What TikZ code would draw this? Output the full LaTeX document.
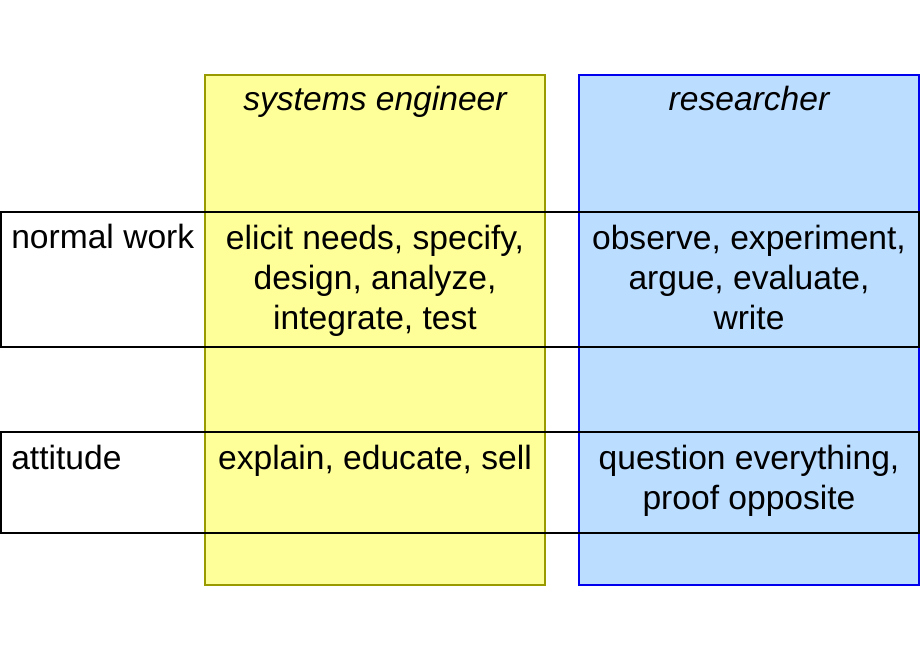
\documentclass[tikz,border=0pt]{standalone}
\usepackage{fontspec}
\setmainfont{Liberation Sans}
\begin{document}
\begin{tikzpicture}[x=0.75pt,y=-0.75pt,
  col/.style={line width=0.9pt},
  txt/.style={font=\fontsize{25.2}{30}\selectfont,align=center,anchor=north,inner sep=0pt},
  lab/.style={font=\fontsize{25.2}{30}\selectfont,anchor=north west,inner sep=0pt}]
\definecolor{yfill}{HTML}{FFFF99}\definecolor{yline}{HTML}{999900}
\definecolor{bfill}{HTML}{BBDDFF}\definecolor{bline}{HTML}{0000EE}
\useasboundingbox (0,0) rectangle (920,660);
\draw[col,fill=yfill,draw=yline] (205,75) rectangle (545,585);
\draw[col,fill=bfill,draw=bline] (579,75) rectangle (919,585);
\draw[line width=0.9pt] (1,212) rectangle (919,347);
\draw[line width=0.9pt] (1,432) rectangle (919,533);
\node[txt,font=\fontsize{25.2}{30}\selectfont\itshape] (se) at (375,86) {systems engineer};
\node[txt,font=\fontsize{25.2}{30}\selectfont\itshape] (re) at (749,86) {researcher};
\node[lab] (nw) at (11,224) {normal work};
\node[lab] (at) at (11,445) {attitude};
\node[txt] (c1) at (375,225) {elicit needs, specify,\\design, analyze,\\integrate, test};
\node[txt] (c2) at (749,225) {observe, experiment,\\argue, evaluate,\\write};
\node[txt] (c3) at (375,445) {explain, educate, sell};
\node[txt] (c4) at (749,445) {question everything,\\proof opposite};
\end{tikzpicture}
\end{document}
